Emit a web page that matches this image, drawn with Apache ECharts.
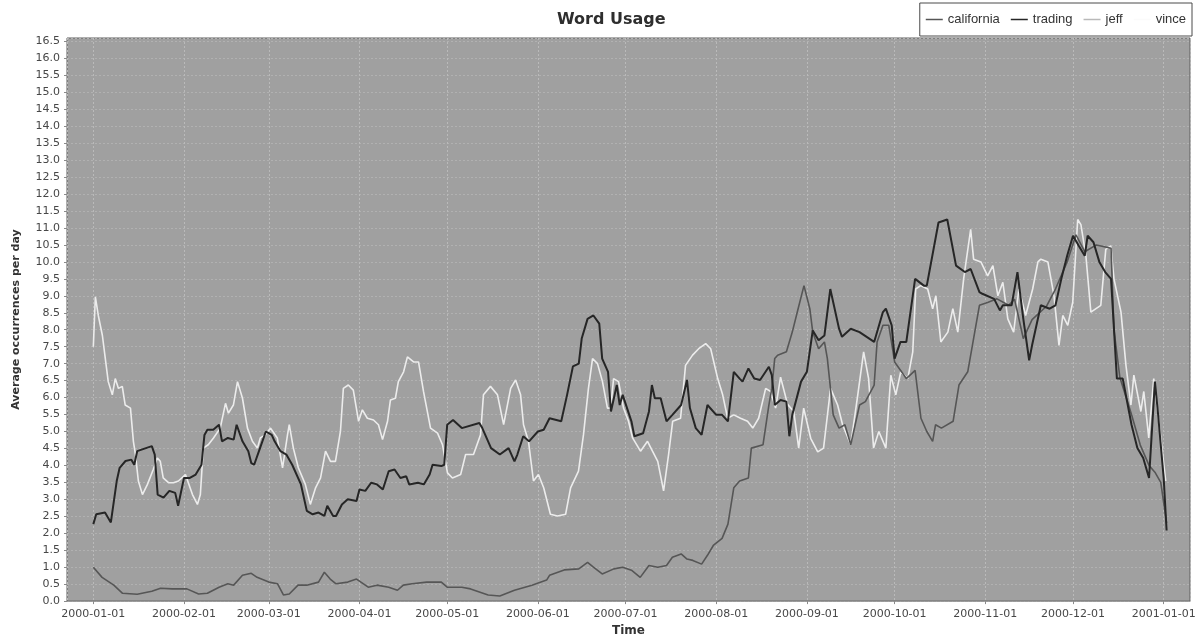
<!DOCTYPE html>
<html>
<head>
<meta charset="utf-8">
<title>Word Usage</title>
<script src="https://cdn.jsdelivr.net/npm/echarts@6/dist/echarts.min.js"></script>
<style>
  html, body { margin: 0; padding: 0; background: #ffffff; }
  #chart { width: 1201px; height: 642px; }
</style>
</head>
<body>
<div id="chart"></div>
<script>
// Days are counted from 2000-01-01; values are average occurrences per day.
const seriesNames = ['california', 'trading', 'jeff', 'vince'];

const californiaDays = [0, 3, 7, 10, 15, 20, 23, 27, 32, 36, 39, 43, 46, 48, 51, 54, 56, 60, 63, 65, 67, 70, 73, 77, 79, 81, 83, 87, 90, 94, 97, 101, 104, 106, 109, 114, 119, 121, 126, 129, 135, 139, 144, 150, 155, 156, 161, 166, 169, 171, 174, 178, 181, 184, 187, 190, 193, 196, 198, 201, 203, 205, 208, 210, 212, 215, 217, 219, 221, 224, 225, 229, 231, 232, 233, 234, 237, 239, 241, 243, 245, 246, 248, 250, 251, 253, 255, 257, 259, 262, 264, 267, 268, 270, 272, 274, 278, 281, 283, 285, 287, 288, 290, 294, 296, 299, 301, 303, 306, 309, 313, 315, 318, 321, 326, 329, 333, 336, 339, 343, 348, 349, 351, 355, 358, 361, 363, 365, 367];
const californiaValues = [1.0, 0.70, 0.47, 0.23, 0.20, 0.29, 0.38, 0.36, 0.36, 0.21, 0.23, 0.41, 0.51, 0.47, 0.76, 0.82, 0.70, 0.56, 0.51, 0.18, 0.21, 0.47, 0.47, 0.56, 0.85, 0.65, 0.51, 0.56, 0.65, 0.41, 0.47, 0.41, 0.32, 0.47, 0.51, 0.56, 0.56, 0.41, 0.41, 0.36, 0.18, 0.15, 0.32, 0.47, 0.62, 0.76, 0.92, 0.95, 1.14, 1.0, 0.80, 0.95, 1.0, 0.91, 0.70, 1.05, 1.0, 1.05, 1.29, 1.39, 1.24, 1.20, 1.09, 1.35, 1.64, 1.85, 2.27, 3.34, 3.54, 3.63, 4.51, 4.61, 5.78, 6.27, 7.15, 7.25, 7.35, 7.93, 8.62, 9.30, 8.62, 7.93, 7.44, 7.64, 7.15, 5.49, 5.10, 5.20, 4.61, 5.78, 5.88, 6.37, 7.64, 8.13, 8.13, 7.05, 6.56, 6.80, 5.39, 5.0, 4.71, 5.20, 5.10, 5.30, 6.37, 6.76, 7.74, 8.72, 8.81, 8.91, 8.72, 8.9, 7.74, 8.3, 8.7, 9.2, 10.0, 10.8, 10.3, 10.5, 10.4, 8.0, 6.6, 5.5, 4.6, 4.0, 3.8, 3.5, 2.3];

const tradingDays = [0, 1, 4, 6, 8, 9, 11, 13, 14, 15, 20, 21, 22, 24, 26, 28, 29, 31, 33, 35, 37, 38, 39, 41, 43, 44, 46, 48, 49, 51, 53, 54, 55, 57, 59, 61, 62, 64, 66, 68, 71, 73, 75, 77, 79, 80, 82, 83, 85, 87, 90, 91, 93, 95, 97, 99, 101, 103, 105, 107, 108, 111, 113, 115, 116, 119, 120, 121, 123, 126, 132, 133, 136, 139, 142, 144, 145, 147, 149, 152, 154, 156, 160, 162, 164, 166, 167, 169, 171, 173, 174, 176, 177, 179, 180, 181, 184, 185, 188, 190, 191, 192, 194, 196, 198, 201, 203, 204, 206, 208, 210, 213, 215, 217, 219, 221, 222, 224, 226, 228, 231, 232, 233, 235, 237, 238, 239, 242, 244, 246, 248, 250, 252, 255, 256, 259, 262, 267, 270, 271, 273, 274, 276, 278, 281, 284, 285, 289, 292, 295, 298, 300, 303, 304, 308, 310, 311, 314, 316, 318, 320, 321, 324, 327, 329, 331, 333, 335, 337, 339, 340, 342, 344, 346, 348, 350, 352, 355, 357, 359, 361, 363, 364, 366, 367];
const tradingValues = [2.27, 2.56, 2.61, 2.32, 3.54, 3.93, 4.13, 4.17, 4.02, 4.42, 4.57, 4.32, 3.14, 3.05, 3.25, 3.19, 2.81, 3.63, 3.63, 3.73, 4.02, 4.90, 5.05, 5.05, 5.20, 4.71, 4.81, 4.76, 5.20, 4.71, 4.42, 4.07, 4.02, 4.51, 5.0, 4.90, 4.71, 4.42, 4.32, 4.02, 3.44, 2.66, 2.56, 2.61, 2.51, 2.81, 2.51, 2.51, 2.85, 3.0, 2.95, 3.29, 3.25, 3.49, 3.44, 3.29, 3.83, 3.88, 3.63, 3.68, 3.44, 3.49, 3.44, 3.73, 4.02, 3.98, 4.02, 5.20, 5.34, 5.10, 5.25, 5.10, 4.51, 4.32, 4.51, 4.12, 4.32, 4.86, 4.71, 5.0, 5.05, 5.39, 5.30, 6.08, 6.92, 7.0, 7.74, 8.32, 8.42, 8.18, 7.15, 6.76, 5.59, 6.37, 5.78, 6.08, 5.30, 4.86, 4.95, 5.59, 6.37, 5.98, 5.98, 5.30, 5.49, 5.78, 6.52, 5.69, 5.10, 4.90, 5.78, 5.49, 5.49, 5.30, 6.76, 6.56, 6.47, 6.86, 6.56, 6.52, 6.91, 6.66, 5.78, 5.93, 5.88, 4.86, 5.49, 6.47, 6.76, 7.98, 7.69, 7.83, 9.20, 8.03, 7.79, 8.03, 7.93, 7.64, 8.52, 8.62, 8.13, 7.15, 7.64, 7.64, 9.50, 9.30, 9.30, 11.16, 11.25, 9.89, 9.70, 9.79, 9.11, 9.06, 8.91, 8.57, 8.72, 8.72, 9.70, 8.32, 7.10, 7.54, 8.72, 8.62, 8.72, 9.50, 10.18, 10.77, 10.47, 10.18, 10.77, 10.58, 10.0, 9.70, 9.50, 6.56, 6.56, 5.20, 4.51, 4.22, 3.63, 6.47, 5.59, 3.63, 2.08];

// jeff appears in the legend only; it has no plotted values.
const jeffDays = [];
const jeffValues = [];

const vinceDays = [0, 0.7, 1.7, 3.1, 4.1, 5.1, 6.5, 7.5, 8.6, 9.9, 10.9, 12.7, 13.7, 14.4, 15.4, 16.8, 18.5, 20.5, 21.9, 22.9, 23.9, 25.7, 27.4, 29.1, 31.5, 33.9, 35.6, 36.6, 37.6, 39.3, 41.1, 43.4, 45.2, 46.2, 47.9, 49.3, 51.0, 52.7, 54.4, 56.1, 57.1, 58.8, 60.6, 62.9, 64.7, 66.4, 67.0, 68.4, 70.1, 72.5, 74.2, 76.0, 77.7, 79.4, 81.1, 82.8, 84.5, 85.5, 87.2, 88.9, 90.7, 92.0, 93.7, 95.8, 97.5, 98.9, 100.6, 101.6, 103.3, 104.3, 106.1, 107.4, 109.5, 111.2, 112.9, 115.3, 117.7, 119.4, 121.1, 122.8, 125.6, 127.3, 130.0, 132.4, 133.4, 135.8, 138.2, 140.3, 142.7, 144.4, 146.1, 147.1, 148.8, 150.5, 152.2, 154.0, 156.3, 158.7, 161.5, 163.2, 165.9, 167.6, 169.3, 170.7, 172.4, 174.1, 175.8, 176.9, 177.9, 179.6, 181.3, 183.0, 184.4, 187.1, 189.5, 191.2, 193.0, 195.0, 196.7, 198.1, 200.8, 202.5, 204.9, 207.0, 209.4, 211.1, 213.5, 215.2, 216.9, 219.0, 221.3, 223.7, 225.5, 227.5, 229.9, 231.6, 233.3, 235.0, 237.4, 239.5, 241.2, 242.9, 245.3, 247.7, 249.7, 252.1, 254.5, 256.2, 259.0, 261.4, 263.4, 265.1, 266.8, 268.6, 271.0, 272.7, 274.4, 276.1, 278.5, 280.2, 281.2, 282.9, 285.3, 287.0, 288.1, 289.8, 292.2, 293.9, 295.6, 297.6, 300.0, 301.0, 303.5, 305.8, 307.6, 309.3, 311.0, 312.7, 314.7, 316.5, 318.8, 321.2, 323.0, 324.0, 326.4, 328.5, 330.2, 331.5, 333.2, 334.9, 336.6, 337.7, 339.4, 341.1, 344.5, 346.2, 347.9, 349.0, 351.4, 353.1, 354.8, 355.8, 358.2, 359.2, 360.9, 362.6, 365.0, 366.7];
const vinceValues = [7.5, 8.97, 8.42, 7.83, 7.15, 6.47, 6.08, 6.56, 6.27, 6.33, 5.78, 5.69, 4.71, 4.32, 3.54, 3.14, 3.44, 3.88, 4.22, 4.12, 3.63, 3.49, 3.49, 3.54, 3.73, 3.14, 2.85, 3.14, 4.51, 4.61, 4.81, 5.10, 5.83, 5.54, 5.78, 6.47, 5.98, 5.10, 4.71, 4.51, 4.81, 4.90, 5.10, 4.81, 3.93, 4.90, 5.20, 4.51, 3.93, 3.44, 2.85, 3.34, 3.63, 4.42, 4.12, 4.12, 5.0, 6.27, 6.37, 6.22, 5.30, 5.64, 5.39, 5.34, 5.20, 4.76, 5.30, 5.93, 5.98, 6.47, 6.76, 7.20, 7.05, 7.05, 6.18, 5.10, 4.95, 4.61, 3.78, 3.63, 3.73, 4.32, 4.32, 4.90, 6.08, 6.33, 6.08, 5.20, 6.27, 6.52, 6.08, 5.20, 4.71, 3.54, 3.73, 3.34, 2.56, 2.51, 2.56, 3.34, 3.83, 4.90, 6.27, 7.15, 7.0, 6.47, 5.69, 5.69, 6.56, 6.47, 5.69, 5.30, 4.81, 4.42, 4.71, 4.42, 4.12, 3.25, 4.32, 5.30, 5.39, 6.95, 7.25, 7.44, 7.59, 7.44, 6.56, 6.08, 5.39, 5.49, 5.39, 5.30, 5.10, 5.39, 6.27, 6.18, 5.69, 6.6, 5.8, 5.59, 4.51, 5.69, 4.8, 4.4, 4.51, 6.27, 5.78, 5.2, 4.61, 6.08, 7.35, 6.56, 4.51, 5.0, 4.51, 6.66, 6.08, 6.76, 6.56, 7.35, 9.20, 9.30, 9.20, 8.62, 9.0, 7.64, 7.93, 8.62, 7.93, 9.50, 10.96, 10.08, 10.0, 9.59, 9.89, 9.0, 9.40, 8.32, 7.93, 9.20, 8.42, 9.20, 10.0, 10.08, 10.0, 9.0, 7.54, 8.42, 8.13, 8.81, 11.25, 11.1, 10.18, 8.52, 8.72, 10.37, 10.47, 9.50, 8.52, 6.95, 5.78, 6.66, 5.59, 6.18, 4.81, 6.56, 4.81, 3.54];

// Axis range and ticks
const xStartDay = -9;
const xEndDay = 375;
const yMin = 0;
const yMax = 16.6;
const yStep = 0.5;

const DAY_MS = 86400000;
const base = new Date(2000, 0, 1).getTime();
const toPairs = (days, values) => days.map((d, i) => [base + d * DAY_MS, values[i]]);

const lineColors = {
  california: '#565656',
  trading: '#262626',
  jeff: '#b9b9b9',
  vince: '#ececec'
};
const lineWidths = { california: 1.6, trading: 2, jeff: 1.5, vince: 1.6 };
const seriesData = {
  california: toPairs(californiaDays, californiaValues),
  trading: toPairs(tradingDays, tradingValues),
  jeff: toPairs(jeffDays, jeffValues),
  vince: toPairs(vinceDays, vinceValues)
};

const pad = n => (n < 10 ? '0' : '') + n;
const fmtDate = v => {
  const d = new Date(v);
  return d.getFullYear() + '-' + pad(d.getMonth() + 1) + '-' + pad(d.getDate());
};

const chart = echarts.init(document.getElementById('chart'), null, { renderer: 'canvas' });

chart.setOption({
  backgroundColor: '#ffffff',
  animation: false,
  title: {
    text: 'Word Usage',
    left: 552,
    top: 7,
    textStyle: { fontFamily: 'DejaVu Sans', fontWeight: 'bold', fontSize: 16, color: '#2e2e2e' }
  },
  legend: {
    data: seriesNames.map(n => ({ name: n, itemStyle: { color: n === 'vince' ? '#fbfbfb' : lineColors[n] } })),
    right: 9,
    top: 3,
    icon: 'rect',
    itemWidth: 17,
    itemHeight: 1.5,
    itemGap: 11,
    padding: [10, 6, 10, 6],
    borderColor: '#4a4a4a',
    borderWidth: 1,
    backgroundColor: '#ffffff',
    textStyle: { fontFamily: 'Liberation Sans', fontSize: 13, color: '#333333', padding: [0, 0, 0, 0] }
  },
  grid: {
    left: 67,
    right: 11,
    top: 38,
    bottom: 38,
    show: true,
    backgroundColor: '#a0a0a0',
    borderColor: '#5e5e5e',
    borderWidth: 1
  },
  xAxis: {
    type: 'time',
    min: base + xStartDay * DAY_MS,
    max: base + xEndDay * DAY_MS,
    minInterval: 28 * DAY_MS,
    maxInterval: 31 * DAY_MS,
    name: 'Time',
    nameLocation: 'middle',
    nameGap: 23,
    nameTextStyle: { fontFamily: 'DejaVu Sans', fontWeight: 'bold', fontSize: 12, color: '#333333' },
    axisLine: { show: true, lineStyle: { color: '#9a9a9a', type: [1, 1] } },
    axisTick: { show: true, length: 3, lineStyle: { color: '#8a8a8a' } },
    axisLabel: {
      formatter: fmtDate,
      showMinLabel: false,
      showMaxLabel: false,
      fontFamily: 'DejaVu Sans',
      fontSize: 11,
      color: '#474747',
      margin: 8
    },
    splitLine: { show: true, lineStyle: { color: '#bababa', type: [2, 2], width: 1 } }
  },
  yAxis: {
    type: 'value',
    min: yMin,
    max: yMax,
    interval: yStep,
    name: 'Average occurrences per day',
    nameLocation: 'middle',
    nameGap: 45,
    nameTextStyle: { fontFamily: 'DejaVu Sans', fontWeight: 'bold', fontSize: 11, color: '#333333' },
    axisLine: { show: false },
    axisTick: { show: true, length: 3, lineStyle: { color: '#8a8a8a' } },
    axisLabel: {
      formatter: v => v.toFixed(1),
      showMaxLabel: false,
      fontFamily: 'DejaVu Sans',
      fontSize: 11,
      color: '#474747',
      margin: 7
    },
    splitLine: { show: true, lineStyle: { color: '#b1b1b1', type: [2, 2], width: 1 } }
  },
  series: seriesNames.map(n => ({
    name: n,
    type: 'line',
    data: seriesData[n],
    showSymbol: false,
    symbol: 'none',
    color: lineColors[n],
    lineStyle: { color: lineColors[n], width: lineWidths[n] },
    z: n === 'trading' ? 5 : (n === 'california' ? 4 : 3)
  }))
});
</script>
</body>
</html>
